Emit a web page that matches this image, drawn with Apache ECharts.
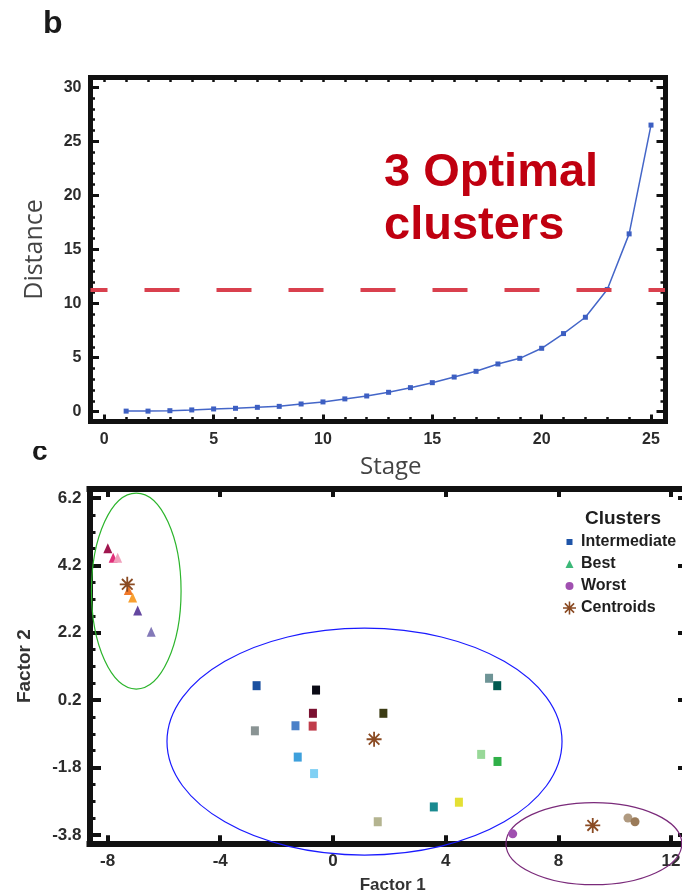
<!DOCTYPE html>
<html><head><meta charset="utf-8">
<script src="https://cdn.jsdelivr.net/npm/echarts@6/dist/echarts.min.js"></script>
<style>html,body{margin:0;padding:0;background:#fff}#chart{width:682px;height:896px}</style>
</head><body><div id="chart"></div><script>
// ---------- panel b: agglomeration schedule ----------
const stages = [1,2,3,4,5,6,7,8,9,10,11,12,13,14,15,16,17,18,19,20,21,22,23,24,25];
const distances = [0.05,0.05,0.09,0.16,0.25,0.31,0.40,0.49,0.71,0.90,1.18,1.45,1.79,2.22,2.68,3.20,3.73,4.41,4.93,5.86,7.22,8.73,11.30,16.44,26.50];
const cutoffDistance = 11.3;
const stageTicks = [0,5,10,15,20,25];
const stageMinorTicks = [0,1,2,3,4,5,6,7,8,9,10,11,12,13,14,15,16,17,18,19,20,21,22,23,24,25];
const distanceTicks = [0,5,10,15,20,25,30];
const distanceMinorTicks = [0,1,2,3,4,5,6,7,8,9,10,11,12,13,14,15,16,17,18,19,20,21,22,23,24,25,26,27,28,29,30];

// ---------- panel c: factor scatter ----------
const factor1Ticks = [-8,-4,0,4,8,12];
const factor2Ticks = [-3.8,-1.8,0.2,2.2,4.2,6.2];
const factor2MinorTicks = [-3.3,-2.8,-2.3,-1.3,-0.8,-0.3,0.7,1.2,1.7,2.7,3.2,3.7,4.7,5.2,5.7];

const intermediatePoints = [[-2.71,0.63],[-0.60,0.50],[-0.71,-0.19],[-0.72,-0.57],[-1.33,-0.56],[-2.77,-0.71],[1.79,-0.19],[-1.25,-1.49],[-0.67,-1.98],[5.54,0.85],[5.83,0.63],[5.26,-1.41],[5.84,-1.62],[4.47,-2.83],[3.58,-2.97],[1.59,-3.41]];
const intermediateColors = ['#1a50a0','#0a0a14','#7a1030','#c03c4a','#4a80c8','#8a9494','#3c3c14','#3ea0dc','#80d0f4','#6e9496','#005a50','#98d898','#30b048','#e4e034','#1a8a90','#b4b490'];
const bestPoints = [[-7.99,4.71],[-7.80,4.43],[-7.64,4.43],[-7.26,3.47],[-7.11,3.25],[-6.93,2.86],[-6.45,2.23]];
const bestColors = ['#a0164e','#e0307a','#f0a0bc','#f07828','#f8a030','#6447a0','#8379b8'];
const worstPoints = [[6.38,-3.77],[10.47,-3.30],[10.72,-3.41]];
const worstColors = ['#a050b0','#b09a80','#9a7a58'];
const centroidPoints = [[-7.30,3.64],[1.46,-0.96],[9.22,-3.52]];
// ellipses: [centerX, centerY, radiusX, radiusY] in factor units
const clusterEllipses = [[-6.98,3.44,1.59,2.91],[1.12,-1.03,7.01,3.37],[9.26,-4.06,3.12,1.22]];
const ellipseColors = ['#2cb52c','#1a1aff','#7a2a7a'];

const frame = '#111';
const FONT = '"Liberation Sans", Arial, sans-serif';
const tickFont = {color:'#2b2b2b', fontSize:16, fontWeight:'bold', fontFamily:FONT};
const asteriskPath = 'M-10,-1.2L10,-1.2L10,1.2L-10,1.2Z M-1.2,-10L1.2,-10L1.2,10L-1.2,10Z M-6.22,-7.92L7.92,6.22L6.22,7.92L-7.92,-6.22Z M7.92,-6.22L-6.22,7.92L-7.92,6.22L6.22,-7.92Z';

function axis(o){
  return Object.assign({type:'value', splitLine:{show:false},
    axisLine:{show:false, onZero:false}, axisTick:{show:false}, axisLabel:{show:false}}, o);
}
function line(w){ return {show:true, onZero:false, lineStyle:{color:frame, width:w, cap:'square'}}; }
function ticks(vals, len, w){ return {show:true, inside:true, length:len, customValues:vals, lineStyle:{color:frame, width:w}}; }

const xAxes = [
  axis({gridIndex:0, position:'bottom', min:-0.63, max:25.64, axisLine:line(5), axisTick:ticks(stageTicks,7,3),
    axisLabel:Object.assign({show:true, customValues:stageTicks, margin:10}, tickFont),
    name:'Stage', nameLocation:'middle', nameGap:34,
    nameTextStyle:{fontSize:24, color:'#444', fontFamily:'"Open Sans", sans-serif', padding:[0,0,0,26]}}),
  axis({gridIndex:0, position:'bottom', min:-0.63, max:25.64, axisTick:ticks(stageMinorTicks,4.5,2.5)}),
  axis({gridIndex:0, position:'top', min:-0.63, max:25.64, axisLine:line(5), axisTick:ticks(stageMinorTicks,4.5,2.5)}),
  axis({gridIndex:1, position:'bottom', min:-8.64, max:12.53, axisLine:line(6), axisTick:ticks(factor1Ticks,8,4),
    axisLabel:Object.assign({show:true, customValues:factor1Ticks, margin:10}, tickFont, {fontSize:17}),
    name:'Factor 1', nameLocation:'middle', nameGap:34,
    nameTextStyle:{fontSize:17, fontWeight:'bold', color:'#333', fontFamily:FONT, padding:[0,0,0,10]}}),
  axis({gridIndex:1, position:'top', min:-8.64, max:12.53, axisLine:line(6), axisTick:ticks(factor1Ticks,8,4)})
];
const yAxes = [
  axis({gridIndex:0, position:'left', min:-0.91, max:30.9, axisLine:line(5), axisTick:ticks(distanceTicks,8.5,3),
    axisLabel:Object.assign({show:true, customValues:distanceTicks, margin:9}, tickFont),
    name:'Distance', nameLocation:'middle', nameGap:43,
    nameTextStyle:{fontSize:25, color:'#444', fontFamily:'"Open Sans", sans-serif'}}),
  axis({gridIndex:0, position:'left', min:-0.91, max:30.9, axisTick:ticks(distanceMinorTicks,4.5,2.5)}),
  axis({gridIndex:0, position:'right', min:-0.91, max:30.9, axisLine:line(5), axisTick:ticks(distanceTicks,8.5,3)}),
  axis({gridIndex:0, position:'right', min:-0.91, max:30.9, axisTick:ticks(distanceMinorTicks,4.5,2.5)}),
  axis({gridIndex:1, position:'left', min:-4.05, max:6.47, axisLine:line(6), axisTick:ticks(factor2Ticks,11.5,4),
    axisLabel:Object.assign({show:true, customValues:factor2Ticks, margin:8}, tickFont, {fontSize:17}),
    name:'Factor 2', nameLocation:'middle', nameGap:55,
    nameTextStyle:{fontSize:19, fontWeight:'bold', color:'#333', fontFamily:FONT}}),
  axis({gridIndex:1, position:'left', min:-4.05, max:6.47, axisTick:ticks(factor2MinorTicks,6,3)}),
  axis({gridIndex:1, position:'right', min:-4.05, max:6.47, axisLine:line(6), axisTick:ticks(factor2Ticks,8,4)})
];

function coloured(points, colors){ return points.map((p,i)=>({value:p, itemStyle:{color:colors[i]}})); }

const option = {
  animation:false,
  backgroundColor:'#fff',
  grid:[
    {left:90.5, top:77.5, width:574.5, height:344, outerBoundsMode:'none', containLabel:false},
    {left:89.5, top:489, width:596.5, height:354.3, outerBoundsMode:'none', containLabel:false}
  ],
  xAxis:xAxes,
  yAxis:yAxes,
  legend:{
    orient:'vertical', left:563, top:534, itemWidth:13, itemHeight:13, itemGap:6, padding:0,
    selectedMode:false,
    textStyle:{fontSize:16, fontWeight:'bold', color:'#1e1e1e', fontFamily:FONT},
    data:[
      {name:'Intermediate', icon:'path://M0,0M13,13M3.5,3.5L9.5,3.5L9.5,9.5L3.5,9.5Z'},
      {name:'Best', icon:'path://M0,0M13,13M6.5,2.5L10.5,10.5L2.5,10.5Z'},
      {name:'Worst', icon:'path://M0,0M13,13M10.5,6.5A4,4,0,1,1,2.5,6.5A4,4,0,1,1,10.5,6.5Z'},
      {name:'Centroids', icon:'path://'+asteriskPath}
    ]
  },
  graphic:{elements:[
    {type:'text', z:100, style:{text:'b', x:43, y:24, verticalAlign:'middle', font:'bold 32px '+FONT, fill:'#1a1a1a'}},
    {type:'text', z:100, style:{text:'c', x:32, y:452, verticalAlign:'middle', font:'bold 28px '+FONT, fill:'#1a1a1a'}},
    {type:'rect', z:101, shape:{x:28, y:430, width:22, height:16}, style:{fill:'#fff'}},
    {type:'text', z:100, style:{text:'3 Optimal', x:384, y:173.5, verticalAlign:'middle', font:'bold 47px '+FONT, fill:'#c00010'}},
    {type:'text', z:100, style:{text:'clusters', x:384, y:226.5, verticalAlign:'middle', font:'bold 47px '+FONT, fill:'#c00010'}},
    {type:'text', z:100, style:{text:'Clusters', x:623, y:519, align:'center', verticalAlign:'middle', font:'bold 19px '+FONT, fill:'#1e1e1e'}}
  ]},
  series:[
    {type:'line', name:'Distance', xAxisIndex:0, yAxisIndex:0,
     data:stages.map((s,i)=>[s, distances[i]]),
     symbol:'rect', symbolSize:5, showAllSymbol:true,
     itemStyle:{color:'#3d5fc2'}, lineStyle:{color:'#4466c8', width:1.5},
     markLine:{silent:true, symbol:'none', label:{show:false},
       lineStyle:{color:'#d9404e', width:4, type:[35,37], dashOffset:18},
       data:[{yAxis:cutoffDistance}]}},
    {type:'custom', name:'ellipses', xAxisIndex:3, yAxisIndex:4, silent:true, clip:false, z:1,
     data:clusterEllipses,
     renderItem:function(params, api){
       const c = api.coord([api.value(0), api.value(1)]);
       const s = api.size([api.value(2), api.value(3)]);
       return {type:'ellipse', shape:{cx:c[0], cy:c[1], rx:s[0], ry:s[1]},
               style:{fill:'none', stroke:ellipseColors[params.dataIndex], lineWidth:1.2}};
     }},
    {type:'scatter', name:'Intermediate', xAxisIndex:3, yAxisIndex:4, symbol:'rect', symbolSize:[8,9],
     itemStyle:{color:'#1f55a8', opacity:1}, data:coloured(intermediatePoints, intermediateColors)},
    {type:'scatter', name:'Best', xAxisIndex:3, yAxisIndex:4, symbol:'triangle', symbolSize:[9,10],
     itemStyle:{color:'#3cb878', opacity:1}, data:coloured(bestPoints, bestColors)},
    {type:'scatter', name:'Worst', xAxisIndex:3, yAxisIndex:4, symbol:'circle', symbolSize:9,
     itemStyle:{color:'#a050b0', opacity:1}, data:coloured(worstPoints, worstColors)},
    {type:'scatter', name:'Centroids', xAxisIndex:3, yAxisIndex:4, symbol:'path://'+asteriskPath, symbolSize:15, z:5,
     itemStyle:{color:'#8a4a22', opacity:1}, data:centroidPoints}
  ]
};
const chart = echarts.init(document.getElementById('chart'), null, {renderer:'canvas'});
chart.setOption(option);
</script></body></html>
